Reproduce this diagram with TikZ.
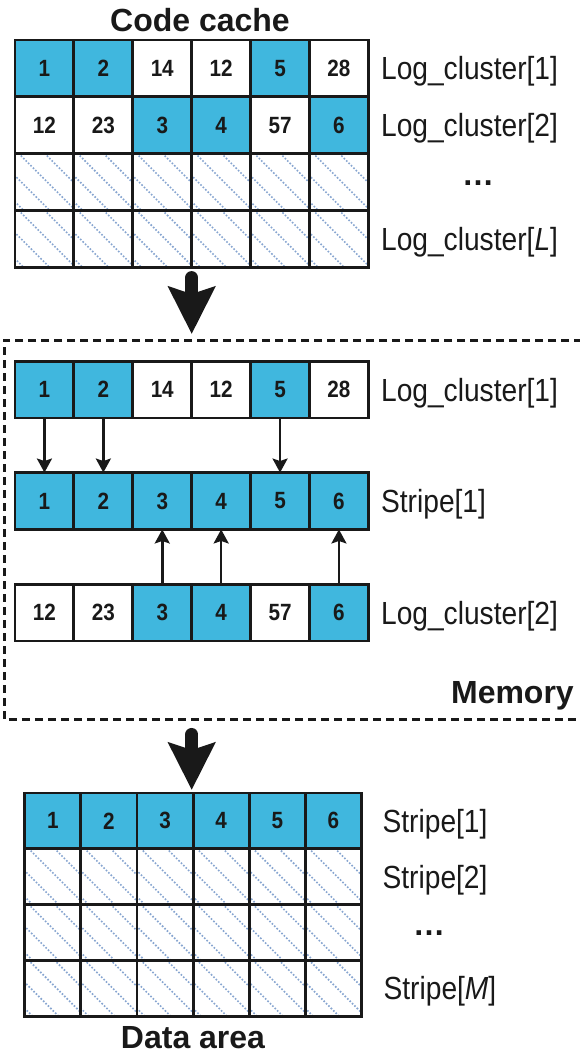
\documentclass[tikz,border=0pt]{standalone}
\usepackage{fontspec}
\setmainfont{Liberation Sans}
\newfontfamily\narrowfont[FakeStretch=0.88]{Liberation Sans}
\usetikzlibrary{arrows.meta,positioning}
\definecolor{cellblue}{RGB}{64,183,222}
\definecolor{hatchblue}{RGB}{135,165,208}
\definecolor{inkgray}{RGB}{25,25,25}
\tikzset{
  cell/.style={draw=inkgray, line width=2.9pt, minimum width=58.9pt, minimum height=56.9pt,
    inner sep=0pt, outer sep=0pt, text=inkgray,
    font=\narrowfont\fontsize{23.5}{25}\selectfont\bfseries},
  dcell/.style={cell, minimum width=56.1pt, minimum height=55.8pt},
  full/.style={fill=cellblue},
  hline/.style={hatchblue, line width=2.3pt, line cap=round, dash pattern=on 0pt off 3.4pt},
  hatch/.style={path picture={\foreach \k in {-2,...,2}
      \draw[hline] ([xshift=\k*26pt+4pt]path picture bounding box.north west) -- ++(80,80);}},
  rlab/.style={inner sep=0pt, text height=23pt, text depth=0pt, text=inkgray,
    font=\narrowfont\fontsize{32}{34}\selectfont},
  dots/.style={inner sep=0pt, text=inkgray, font=\fontsize{32}{34}\selectfont\bfseries},
  ttl/.style={inner sep=0pt, text=inkgray, font=\fontsize{32}{35}\selectfont\bfseries},
  bigarr/.style={inkgray, line width=13pt, line cap=round,
    -{Stealth[length=47pt, width=46pt, inset=7pt]}},
  smarr/.style={inkgray, line width=2.5pt, -{Stealth[length=14pt, width=15pt, inset=2.5pt]}},
  frame/.style={inkgray, line width=3pt, dash pattern=on 8pt off 5pt},
}
\begin{document}
\begin{tikzpicture}[x=1pt, y=-1pt]
  \useasboundingbox (0,0) rectangle (580,1054);
  % code cache
  \node[ttl, anchor=base] (cc-title) at (200,32) {Code cache};
  \foreach \t/\f [count=\c] in {1/full,2/full,14/,12/,5/full,28/}
    \node[cell,\f] (cc-1-\c) at ({15+58.9*(\c-0.5)},68.45) {\t};
  \foreach \t/\f [count=\c] in {12/,23/,3/full,4/full,57/,6/full}
    \node[cell,\f] (cc-2-\c) at ({15+58.9*(\c-0.5)},125.35) {\t};
  \foreach \r in {3,4}
    \foreach \c in {1,...,6}
      \node[cell,hatch] (cc-\r-\c) at ({15+58.9*(\c-0.5)},{40+56.9*(\r-0.5)}) {};
  \node[rlab, right=12.5pt of cc-1-6] (cc-lab1) {Log\_cluster[1]};
  \node[rlab, right=12.5pt of cc-2-6] (cc-lab2) {Log\_cluster[2]};
  \node[dots] (cc-dots) at (478,183) {…};
  \node[rlab, right=12.5pt of cc-4-6] (cc-lab4) {Log\_cluster[\textit{L}]};

  % memory
  \draw[frame] (582,340) -- (4,340) -- (4,719) -- (582,719);
  \foreach \t/\f [count=\c] in {1/full,2/full,14/,12/,5/full,28/}
    \node[cell,\f] (m1-\c) at ({15+58.9*(\c-0.5)},389.5) {\t};
  \foreach \c in {1,...,6}
    \node[cell,full] (st-\c) at ({15+58.9*(\c-0.5)},501) {\c};
  \foreach \t/\f [count=\c] in {12/,23/,3/full,4/full,57/,6/full}
    \node[cell,\f] (lc2-\c) at ({15+58.9*(\c-0.5)},612.5) {\t};
  \node[rlab, right=12.5pt of m1-6] (m1-lab) {Log\_cluster[1]};
  \node[rlab, right=12.5pt of st-6] (st-lab) {Stripe[1]};
  \node[rlab, right=12.5pt of lc2-6] (lc2-lab) {Log\_cluster[2]};
  \node[ttl, anchor=base east] (mem-title) at (574,703) {Memory};
  \foreach \c in {1,2,5}
    \draw[smarr] (m1-\c) -- (st-\c);
  \foreach \c in {3,4,6}
    \draw[smarr] (lc2-\c) -- (st-\c);

  % data area
  \foreach \c in {1,...,6}
    \node[dcell,full] (da-1-\c) at ({24.8+56.1*(\c-0.5)},820.9) {\c};
  \foreach \r in {2,3,4}
    \foreach \c in {1,...,6}
      \node[dcell,hatch] (da-\r-\c) at ({24.8+56.1*(\c-0.5)},{793+55.8*(\r-0.5)}) {};
  \node[rlab, right=21pt of da-1-6] (da-lab1) {Stripe[1]};
  \node[rlab, right=21pt of da-2-6] (da-lab2) {Stripe[2]};
  \node[dots] (da-dots) at (429,933) {…};
  \node[rlab, right=22pt of da-4-6] (da-lab4) {Stripe[\textit{M}]};
  \node[ttl, anchor=base] (da-title) at (193,1048) {Data area};

  % big arrows
  \coordinate (datop) at (lc2-3.south east |- da-1-1.north);
  \draw[bigarr] ([yshift=-10pt]cc-4-3.south east) -- ([yshift=27pt]m1-3.north east);
  \draw[bigarr] ([yshift=-93.5pt]lc2-3.south east) -- ([yshift=3pt]datop);
\end{tikzpicture}
\end{document}
